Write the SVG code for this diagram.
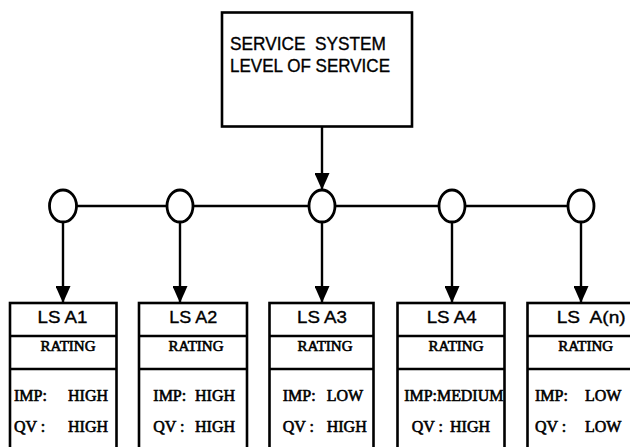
<svg xmlns="http://www.w3.org/2000/svg" width="630" height="447" viewBox="0 0 630 447">
<style>
.box{fill:#fff;stroke:#000;stroke-width:2.6}
.div{stroke:#000;stroke-width:2.4}
.conn{stroke:#000;stroke-width:2.4;fill:none}
.circ{fill:#fff;stroke:#000;stroke-width:2.8}
.sans{font-family:"Liberation Sans",Arial,sans-serif;fill:#000;stroke:#000;stroke-width:0.35}
.ser{font-family:"Liberation Serif","Times New Roman",serif;fill:#000;stroke:#000;stroke-width:0.6}
.hd{font-size:16.5px}
.rt{font-size:15px}
.val{font-size:16px}
</style>
<defs>
<marker id="ah" viewBox="0 0 17 15" refX="17" refY="7.5" markerWidth="17" markerHeight="15" markerUnits="userSpaceOnUse" orient="auto">
<path d="M0,0 L17,7.5 L0,15 Z" fill="#000"/>
</marker>
</defs>
<rect width="630" height="447" fill="#fff"/>
<g id="connectors">
<line class="conn" x1="322" y1="127" x2="322" y2="190" marker-end="url(#ah)"/>
<line class="conn" x1="63" y1="206" x2="581" y2="206"/>
<line class="conn" x1="63" y1="222" x2="63" y2="303" marker-end="url(#ah)"/>
<line class="conn" x1="180" y1="222" x2="180" y2="303" marker-end="url(#ah)"/>
<line class="conn" x1="322" y1="222" x2="322" y2="303" marker-end="url(#ah)"/>
<line class="conn" x1="452" y1="222" x2="452" y2="303" marker-end="url(#ah)"/>
<line class="conn" x1="581" y1="222" x2="581" y2="303" marker-end="url(#ah)"/>
</g>
<g id="top">
<rect class="box" x="222" y="12.5" width="190" height="114"/>
<text class="sans" x="230" y="50" font-size="18" textLength="156" lengthAdjust="spacingAndGlyphs" xml:space="preserve">SERVICE  SYSTEM</text>
<text class="sans" x="230" y="71.5" font-size="18" textLength="160" lengthAdjust="spacingAndGlyphs">LEVEL OF SERVICE</text>
</g>
<g id="junctions">
<ellipse class="circ" cx="63" cy="206" rx="13.5" ry="16"/>
<ellipse class="circ" cx="180" cy="206" rx="13" ry="16"/>
<ellipse class="circ" cx="322" cy="206" rx="13" ry="16"/>
<ellipse class="circ" cx="452" cy="206" rx="13" ry="16"/>
<ellipse class="circ" cx="581" cy="206" rx="13" ry="16"/>
</g>
<g id="lsa1">
<rect class="box" x="10" y="303" width="106.5" height="150"/>
<line class="div" x1="10" y1="336" x2="116.5" y2="336"/>
<line class="div" x1="10" y1="369" x2="116.5" y2="369"/>
<text class="sans hd" x="62.5" y="323.3" text-anchor="middle" textLength="50" lengthAdjust="spacingAndGlyphs">LS A1</text>
<text class="ser rt" x="68" y="351" text-anchor="middle">RATING</text>
<text class="ser val" x="14" y="400.7">IMP:</text><text class="ser val" x="68" y="400.7">HIGH</text>
<text class="ser val" x="14" y="432.3">QV :</text><text class="ser val" x="68" y="432.3">HIGH</text>
</g>
<g id="lsa2">
<rect class="box" x="139" y="303" width="108" height="150"/>
<line class="div" x1="139" y1="336" x2="247" y2="336"/>
<line class="div" x1="139" y1="369" x2="247" y2="369"/>
<text class="sans hd" x="193.3" y="323.3" text-anchor="middle" textLength="48" lengthAdjust="spacingAndGlyphs">LS A2</text>
<text class="ser rt" x="196" y="351" text-anchor="middle">RATING</text>
<text class="ser val" x="153.3" y="400.7">IMP:</text><text class="ser val" x="195" y="400.7">HIGH</text>
<text class="ser val" x="153.3" y="432.3">QV :</text><text class="ser val" x="195" y="432.3">HIGH</text>
</g>
<g id="lsa3">
<rect class="box" x="269.5" y="303" width="104" height="150"/>
<line class="div" x1="269.5" y1="336" x2="373.5" y2="336"/>
<line class="div" x1="269.5" y1="369" x2="373.5" y2="369"/>
<text class="sans hd" x="322" y="323.3" text-anchor="middle" textLength="50" lengthAdjust="spacingAndGlyphs">LS A3</text>
<text class="ser rt" x="325" y="351" text-anchor="middle">RATING</text>
<text class="ser val" x="282.7" y="400.7">IMP:</text><text class="ser val" x="326.7" y="400.7">LOW</text>
<text class="ser val" x="282.7" y="432.3">QV :</text><text class="ser val" x="326.7" y="432.3">HIGH</text>
</g>
<g id="lsa4">
<rect class="box" x="397.5" y="303" width="107" height="150"/>
<line class="div" x1="397.5" y1="336" x2="504.5" y2="336"/>
<line class="div" x1="397.5" y1="369" x2="504.5" y2="369"/>
<text class="sans hd" x="451.7" y="323.3" text-anchor="middle" textLength="50" lengthAdjust="spacingAndGlyphs">LS A4</text>
<text class="ser rt" x="456" y="351" text-anchor="middle">RATING</text>
<text class="ser val" x="404.3" y="400.7" textLength="99" lengthAdjust="spacingAndGlyphs">IMP:MEDIUM</text>
<text class="ser val" x="411.7" y="432.3">QV :</text><text class="ser val" x="450" y="432.3">HIGH</text>
</g>
<g id="lsan">
<rect class="box" x="527.5" y="303" width="120" height="150"/>
<line class="div" x1="527.5" y1="336" x2="640" y2="336"/>
<line class="div" x1="527.5" y1="369" x2="640" y2="369"/>
<text class="sans hd" x="556.7" y="323.3" textLength="69" lengthAdjust="spacingAndGlyphs" xml:space="preserve">LS  A(n)</text>
<text class="ser rt" x="585.7" y="351" text-anchor="middle">RATING</text>
<text class="ser val" x="535" y="400.7">IMP:</text><text class="ser val" x="585" y="400.7">LOW</text>
<text class="ser val" x="535" y="432.3">QV :</text><text class="ser val" x="585" y="432.3">LOW</text>
</g>
</svg>
